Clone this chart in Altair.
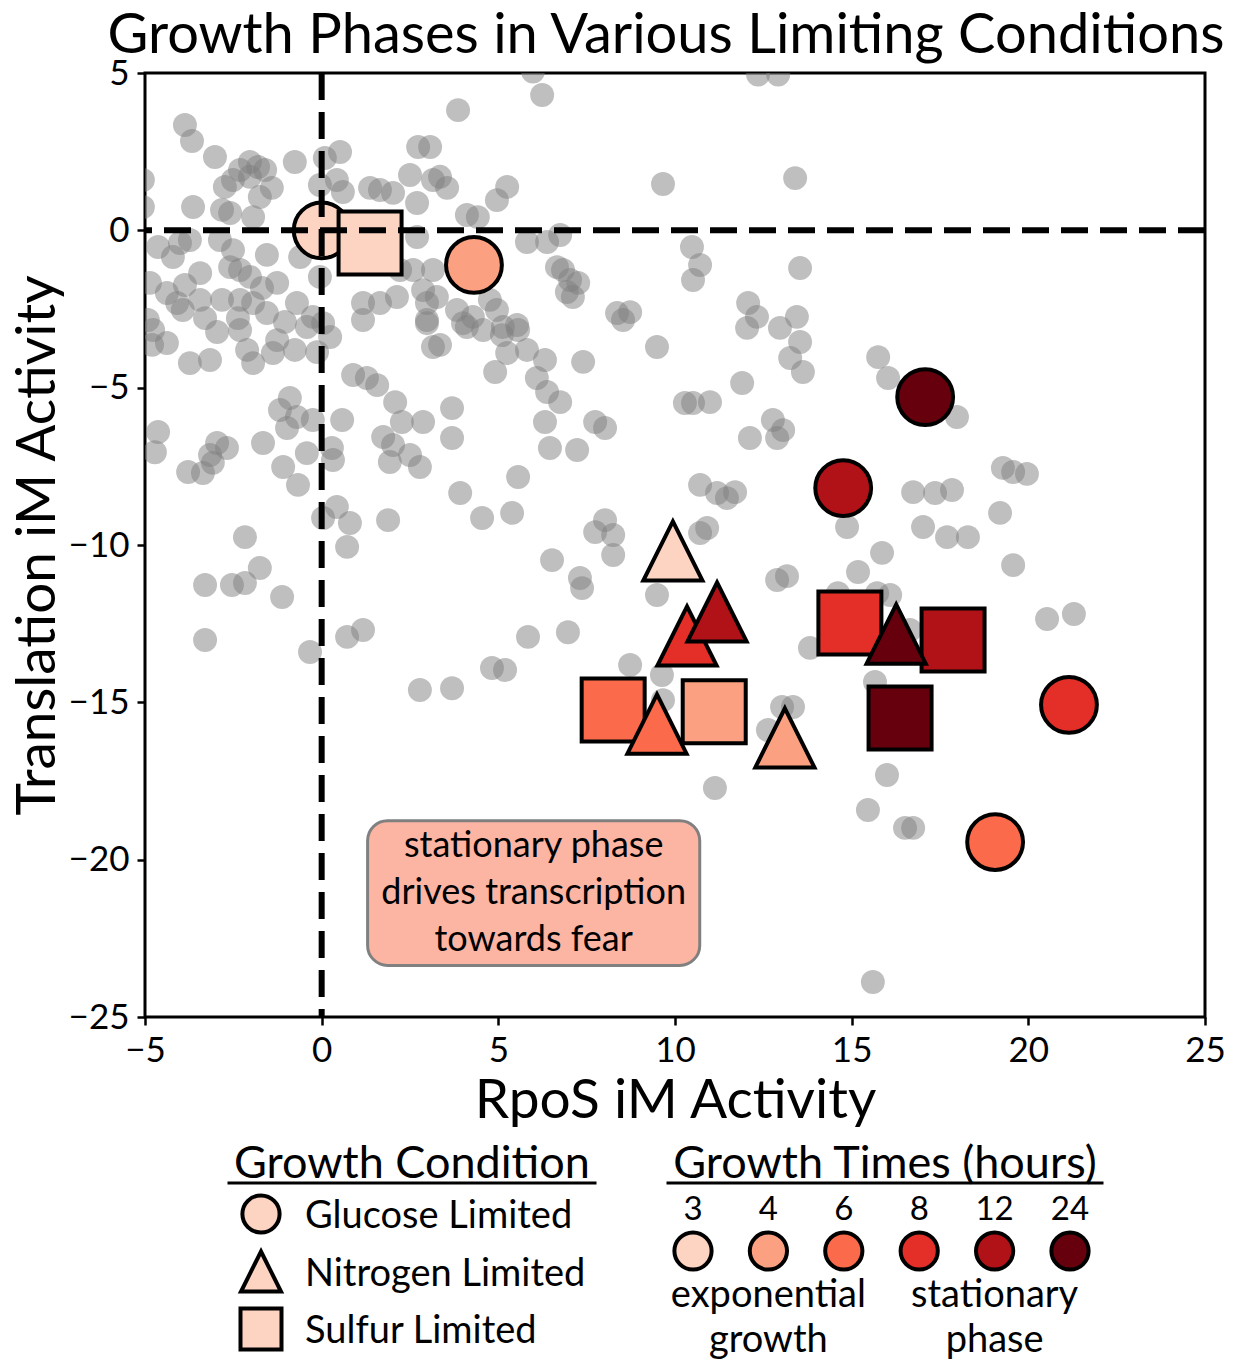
import altair as alt
import pandas as pd

FONT = "Lato"

# ---------------- data ----------------
bg_x = [-3.87, -3.67, -3.02, -2.31, -2.03, -1.80, -1.60, -2.74, -2.51, -2.03, -1.75, -1.41, -3.64, -2.82, -2.59, -1.94,
        -0.76, 0.09, 0.52, -0.05, 0.43, 0.60, 1.37, 1.65, 2.02, 2.73, 2.50, 3.15, 2.70, -5.06, -5.06,
        -4.63, -4.01, -3.73, -2.88, -2.51, -4.21, -3.44, -2.59, -2.31, -2.03, -1.55, -1.26, -0.61, -0.05,
        -4.86, -4.38, -4.09, -3.93, -2.82, -2.31, -1.94, -1.55, -0.70, -0.25, 0.04, 1.17, 1.65, 2.13, 2.22,
        2.59, 3.15, 2.87, 2.70, 2.98, 2.98, -4.77, -4.38, -3.73, -3.16, -2.96, -2.31, -2.11, -1.94, -1.26,
        -1.38, -0.76, -0.42, 0.24, -0.13, 0.89, 1.28, 1.57, 2.08, 2.27, 2.87, 1.74, 2.02, 2.50, 1.93, 2.78,
        3.15, 2.98, 1.17, -4.63, -4.72, -2.96, -2.68, -3.16, -3.08, -3.78, -3.36, -1.66, -0.90, -1.18, -0.70,
        -0.98, -0.25, 0.58, -0.42, -1.09, -0.67, 0.29, 0.32, 0.43, 0.04, 0.80, 0.72, 1.88, -2.17, -1.75,
        -3.30, -2.54, -2.17, -1.12, -3.30, -0.33, 0.72, 1.17, 2.78, 3.69, 3.86, 6.24, 5.98, 3.07, 3.35,
        3.55, 5.25, 4.96, 4.11, 4.42, 9.66, 5.81, 6.38, 6.75, 6.66, 6.83, 7.03, 7.26, 6.94, 7.11, 8.36,
        8.73, 10.48, 10.71, 10.51, 3.26, 3.83, 4.28, 4.76, 4.96, 5.13, 5.53, 4.00, 3.35, 4.11, 4.57, 5.10,
        5.56, 5.25, 5.81, 6.32, 4.91, 6.09, 6.38, 6.75, 6.32, 7.74, 8.02, 6.46, 7.23, 7.40, 9.49, 8.53,
        3.69, 3.69, 5.56, 3.92, 4.54, 5.39, 8.02, 7.74, 8.25, 8.25, 6.52, 10.28, 10.51, 10.99, 10.71, 11.19,
        11.47, 10.71, 10.91, 7.31, 7.37, 9.49, 5.84, 6.97, 4.82, 5.19, 8.73, 9.63, 9.66, 11.13, 12.35,
        12.92, 13.40, 13.54, 12.07, 12.32, 13.45, 12.04, 12.97, 13.54, 13.26, 13.62, 11.90, 15.75, 16.03,
        17.98, 12.77, 13.06, 12.89, 12.12, 11.70, 16.74, 17.36, 17.84, 17.02, 17.70, 18.29, 15.86, 15.18,
        14.87, 19.20, 19.28, 19.57, 19.96, 19.57, 12.89, 13.17, 14.61, 15.72, 16.09, 13.82, 15.66, 16.65,
        13.03, 13.34, 12.63, 16.00, 15.46, 16.51, 16.74, 20.53, 21.29, 15.60, -4.92, -4.80, -3.87, -3.30,
        -2.37, -1.04, -3.44, -1.69]
bg_y = [3.35, 2.84, 2.33, 1.92, 2.17, 2.01, 1.92, 1.38, 1.60, 1.70, 1.06, 1.35, 0.74, 0.65, 0.55, 0.42,
        2.17, 2.30, 2.49, 1.44, 1.60, 1.22, 1.35, 1.28, 1.19, 2.65, 1.76, 1.60, 0.87, 1.60, 0.74,
        -0.53, -0.40, -0.31, -0.31, -0.63, -0.85, -1.36, -1.17, -1.26, -1.48, -0.78, -1.67, -0.85, -1.48,
        -1.67, -1.99, -2.31, -2.53, -2.21, -2.21, -2.31, -2.63, -2.31, -2.75, -2.95, -2.31, -2.31, -2.12, -1.26,
        -1.26, -1.26, -1.90, -0.21, -2.31, -2.85, -3.17, -3.58, -4.22, -4.12, -3.23, -3.17, -3.80, -4.22, -3.49,
        -3.90, -3.80, -3.07, -3.39, -3.87, -4.60, -4.69, -4.92, -5.46, -6.09, -6.09, -6.57, -6.82, -7.14, -7.36, -7.52,
        -3.71, -2.95, -2.85, -6.41, -7.05, -6.76, -6.92, -7.14, -7.39, -7.68, -7.71, -6.76, -5.33, -5.71, -5.93,
        -6.28, -6.03, -6.03, -7.08, -7.52, -8.09, -6.92, -7.30, -8.79, -9.14, -9.30, -10.06, -9.21, -9.75, -10.73,
        -11.27, -11.27, -11.21, -11.65, -13.02, -13.40, -12.92, -12.70, -14.61, -14.55, 3.82, 4.30, 5.05, 2.65, 1.70,
        1.35, 1.38, 0.96, 0.49, 0.42, 1.47, -0.37, -0.37, -0.15, -1.17, -1.26, -1.58, -1.67, -1.96, -2.12, -2.63,
        -2.60, -0.53, -1.10, -1.58, -2.12, -2.53, -2.75, -2.21, -2.53, -3.07, -3.01, -2.95, -3.64, -3.07, -3.17, -3.33,
        -3.17, -3.90, -3.80, -4.12, -4.50, -4.69, -5.14, -5.46, -6.09, -6.09, -6.28, -6.92, -6.98, -4.18, -3.71, -2.85,
        -5.65, -6.60, -7.84, -8.35, -9.14, -8.98, -9.21, -9.59, -9.68, -10.32, -10.48, -5.49, -5.49, -5.46, -8.09, -8.35,
        -8.51, -9.62, -9.46, -11.05, -11.37, -11.59, -12.92, -12.77, -13.91, -13.97, -13.81, -14.13, -14.93, -17.72, 4.95,
        4.95, 1.66, -1.20, -2.31, -2.75, -2.75, -3.10, -3.10, -3.55, -4.06, -4.50, -4.85, -4.03, -4.69,
        -5.93, -6.03, -6.35, -6.60, -6.60, -8.32, -8.32, -8.35, -8.25, -9.43, -9.75, -9.75, -10.25, -10.86,
        -9.43, -8.98, -7.55, -7.68, -7.74, -10.64, -11.11, -10.99, -11.53, -11.53, -11.59, -13.27, -14.35, -12.70,
        -15.15, -15.15, -15.88, -17.31, -18.42, -18.99, -18.99, -12.35, -12.19, -23.89, -2.85, -3.64, -1.74, -2.79,
        -2.79, -2.91, -2.21, -1.83]

hours = [3, 4, 6, 8, 12, 24]
time_colors = ["#fdd4c2", "#fca082", "#fb6a4a", "#e32f27", "#b11218", "#67000d"]
conditions = ["Glucose Limited", "Nitrogen Limited", "Sulfur Limited"]
glucose_x = [0.0, 4.31, 19.06, 21.15, 14.76, 17.08]
glucose_y = [0.0, -1.10, -19.44, -15.08, -8.19, -5.30]
nitrogen_x = [9.94, 13.11, 9.49, 10.34, 11.19, 16.26]
nitrogen_y = [-10.19, -16.13, -15.69, -12.89, -12.13, -12.83]
sulfur_x = [1.37, 11.11, 8.25, 14.95, 17.87, 16.37]
sulfur_y = [-0.40, -15.30, -15.24, -12.48, -13.02, -15.50]
phase_labels = [["exponential", "growth"], ["stationary", "phase"]]
annotation_lines = ["stationary phase", "drives transcription", "towards fear"]
title_text = "Growth Phases in Various Limiting Conditions"
x_ticks = [-5, 0, 5, 10, 15, 20, 25]
y_ticks = [-25, -20, -15, -10, -5, 0, 5]

# ---------------- style / layout ----------------
W, H = 1060, 944
TRI = "M0,-1L1,1L-1,1Z"
SHAPES = {"Glucose Limited": "circle", "Nitrogen Limited": TRI, "Sulfur Limited": "square"}
MAIN_SIZE = {"Glucose Limited": 3117, "Nitrogen Limited": 3500, "Sulfur Limited": 3969}
LEG_SIZE = {"Glucose Limited": 1385, "Nitrogen Limited": 1600, "Sulfur Limited": 1681}

xs = alt.Scale(domain=[-5, 25], nice=False, zero=False)
ys = alt.Scale(domain=[-25, 5], nice=False, zero=False)
X = alt.X("x:Q", scale=xs, axis=alt.Axis(values=x_ticks, title="RpoS iM Activity"))
Y = alt.Y("y:Q", scale=ys, axis=alt.Axis(values=y_ticks, title="Translation iM Activity"))
C = alt.Color("hours:O", scale=alt.Scale(domain=hours, range=time_colors), legend=None)

bg = alt.Chart(pd.DataFrame({"x": bg_x, "y": bg_y})).mark_circle(
    size=573, color="#808080", opacity=0.5, clip=True).encode(x=X, y=Y)


def cond_layer(name, xv, yv):
    df = pd.DataFrame({"x": xv, "y": yv, "hours": hours})
    return alt.Chart(df).mark_point(
        shape=SHAPES[name], filled=True, size=MAIN_SIZE[name],
        stroke="black", strokeWidth=4, opacity=1).encode(x=X, y=Y, color=C)


circles = cond_layer("Glucose Limited", glucose_x, glucose_y)
squares = cond_layer("Sulfur Limited", sulfur_x, sulfur_y)
triangles = cond_layer("Nitrogen Limited", nitrogen_x, nitrogen_y)

zero = pd.DataFrame({"x": [0.0], "y": [0.0]})
vline = alt.Chart(zero).mark_rule(color="black", strokeWidth=6, strokeDash=[27, 12]).encode(x=X)
hline = alt.Chart(zero).mark_rule(color="black", strokeWidth=6, strokeDash=[27, 12]).encode(y=Y)

ann_x, ann_y = 6.0, -21.06
box_dx, box_dy = 4.7, 2.3
ANN_LH = 47
ann_box = pd.DataFrame({"x": [ann_x - box_dx], "x2": [ann_x + box_dx],
                        "y": [ann_y + box_dy], "y2": [ann_y - box_dy]})
rect = alt.Chart(ann_box).mark_rect(fill="#fcb4a3", stroke="#808080", strokeWidth=3,
                                    cornerRadius=20).encode(x=X, x2="x2:Q", y=Y, y2="y2:Q")
ann_text = alt.Chart(pd.DataFrame({"x": [ann_x], "y": [ann_y]})).mark_text(
    text=annotation_lines, font=FONT, fontSize=36, lineHeight=ANN_LH, align="center",
    baseline="middle", dy=-ANN_LH * (len(annotation_lines) - 1) / 2, color="black").encode(x=X, y=Y)

# ---------------- title and custom legends ----------------
ONE = pd.DataFrame({"k": [0]})


def sym(px, py, shape, size, fill):
    return alt.Chart(ONE).mark_point(shape=shape, filled=True, fill=fill, stroke="black",
                                     strokeWidth=4, size=size, opacity=1).encode(
        x=alt.value(px), y=alt.value(py))


def txt(px, py, s, size, align="left"):
    return alt.Chart(ONE).mark_text(text=s, font=FONT, fontSize=size, align=align,
                                    baseline="alphabetic", color="black").encode(
        x=alt.value(px), y=alt.value(py))


def uline(x0, x1, py):
    return alt.Chart(ONE).mark_rule(color="black", strokeWidth=3).encode(
        x=alt.value(x0), x2=alt.value(x1), y=alt.value(py))


title_layer = txt(W / 2 - 9, -20, title_text, 56, "center")

LEG_TITLE_BASE = 1105
UL_Y = 1110
COND_CX, COND_W = 267, 369
COND_SYM_X, COND_LAB_X = 116, 160
COND_Y0, COND_DY, COND_BASE_OFF = 1141, 57.5, 14
TIME_CX, TIME_W = 740, 437
HOUR_X0, HOUR_DX = 548, 75.4
HOUR_NUM_BASE, HOUR_SYM_Y = 1147, 1178
PHASE_BASE0, PHASE_DL = 1234, 45

legend_layers = [
    txt(COND_CX, LEG_TITLE_BASE, "Growth Condition", 45, "center"),
    uline(COND_CX - COND_W / 2, COND_CX + COND_W / 2, UL_Y),
    txt(TIME_CX, LEG_TITLE_BASE, "Growth Times (hours)", 45, "center"),
    uline(TIME_CX - TIME_W / 2, TIME_CX + TIME_W / 2, UL_Y),
]
for i, name in enumerate(conditions):
    cy = COND_Y0 + i * COND_DY
    legend_layers.append(sym(COND_SYM_X, cy, SHAPES[name], LEG_SIZE[name], time_colors[0]))
    legend_layers.append(txt(COND_LAB_X, cy + COND_BASE_OFF, name, 38))
for i, h in enumerate(hours):
    hx = HOUR_X0 + i * HOUR_DX
    legend_layers.append(txt(hx, HOUR_NUM_BASE, str(h), 33, "center"))
    legend_layers.append(sym(hx, HOUR_SYM_Y, "circle", 1385, time_colors[i]))
for g, lines in enumerate(phase_labels):
    cx = HOUR_X0 + (3 * g + 1) * HOUR_DX
    for j, line in enumerate(lines):
        legend_layers.append(txt(cx, PHASE_BASE0 + j * PHASE_DL, line, 38, "center"))

chart = alt.layer(bg, circles, squares, triangles, vline, hline, rect, ann_text, title_layer,
                  *legend_layers).properties(
    width=W, height=H,
    padding={"left": 137, "top": 65, "right": 21, "bottom": 347},
    autosize=alt.AutoSizeParams(type="none"),
).configure_view(stroke="black", strokeWidth=3).configure_axis(
    labelFont=FONT, labelFontSize=35, labelColor="black", titleFont=FONT, titleFontSize=55,
    titleFontWeight="normal", titleColor="black", tickColor="black", tickSize=8, tickWidth=2.5,
    domain=False, grid=False, labelPadding=8, labelFlush=False, labelOverlap=False
).configure_axisX(titlePadding=6).configure_axisY(titlePadding=2)

chart.save("out.html", embed_options={"renderer": "svg", "actions": False})
